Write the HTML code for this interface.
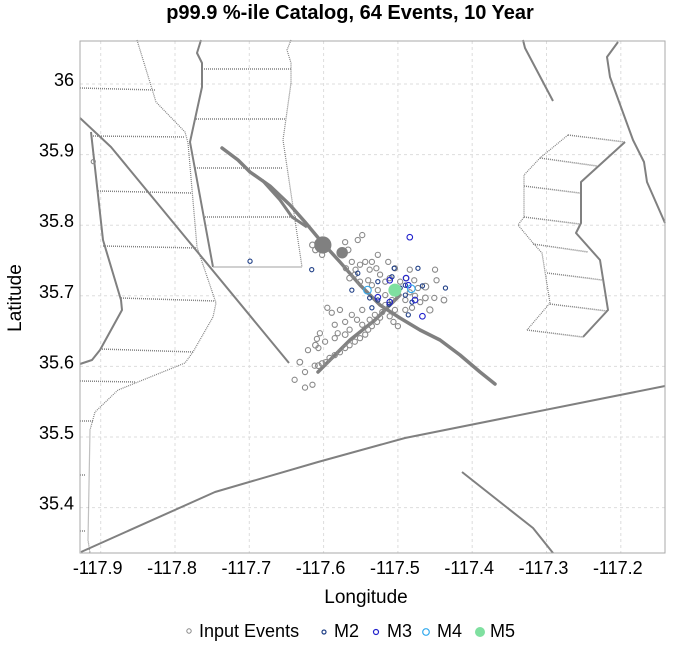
<!DOCTYPE html>
<html><head><meta charset="utf-8"><style>
body{margin:0;background:#fff;width:700px;height:647px;overflow:hidden;font-family:"Liberation Sans",sans-serif}
svg text{font-family:"Liberation Sans",sans-serif}
</style></head><body>
<svg id="chart" width="700" height="647" viewBox="0 0 700 647" xmlns="http://www.w3.org/2000/svg">
<text x="350" y="19" text-anchor="middle" font-size="20" font-weight="bold" fill="#000">p99.9 %-ile Catalog, 64 Events, 10 Year</text>
<g id="grid"></g>
<g fill="none" stroke="#808080" stroke-linejoin="round">
 <polyline stroke-width="2" points="201,40 197,53 202,63 202,87 190,142 213,267"/>
 <polyline stroke="#b5b5b5" stroke-width="1.2" points="213,267 302,267"/>
 <polyline stroke-width="1.2" stroke-dasharray="1,1" points="291,40 287,50 291,63 291,83 283,140 302,267"/>
 <g stroke-width="1.5" stroke-dasharray="1,1">
  <polyline points="202,69 291,69"/><polyline points="196,119 285,119"/><polyline points="195,168 283,168"/><polyline points="205,217 296,217"/>
  <polyline points="80,88 155,90"/><polyline points="91,136 185,137"/><polyline points="98,191 191,193"/><polyline points="103,246 197,248"/>
  <polyline points="121,298 215,301"/><polyline points="100,349 193,352"/><polyline points="80,381 135,382"/><polyline points="80,421 93,421"/>
  <polyline points="80,475 85,475"/><polyline points="80,531 86,531"/>
  <polyline points="568,135 625,142"/><polyline points="540,158 597,166"/><polyline points="524,186 580,193"/><polyline points="524,217 580,224"/>
  <polyline points="533,244 588,252"/><polyline points="547,273 602,280"/><polyline points="550,304 607,311"/><polyline points="527,330 583,337"/>
 </g>
 <polyline stroke-width="2" points="91,132 103,240 121,300 122,310 100,350 92,360 80,364"/>
 <polyline stroke-width="1.2" stroke-dasharray="1,1" points="137,40 156,102 185,132 188,143 197,247 216,303 213,317 193,352 185,363 118,390 95,412 90,430 88,540 90,553"/>
 <polyline stroke-width="2" points="80,118 111,147 289,363"/>
 <polyline stroke-width="2" points="81,552 215,492 318,462 405,438 665,386"/>
 <polyline stroke-width="2" points="523,40 525,48 553,101"/>
 <polyline stroke-width="2" points="618,42 607,57 610,77 633,140 644,162 647,182 665,223"/>
 <polyline stroke-width="2" points="625,142 581,182 581,223 576,233 600,260 608,310 583,337"/>
 <polyline stroke-width="1.2" stroke-dasharray="1,1" points="568,135 540,158 524,175 524,217 518,225 533,243 542,253 550,303 527,330"/>
 <polyline stroke-width="2" points="462,472 500,502 533,528 553,553"/>
 <polyline stroke-width="3.5" stroke-linecap="round" points="222,148 238,160 250,172 270,186 290,205 305,222 320,240 340,262 360,285 380,305 400,318 420,330 440,340 460,355 480,372 495,384"/>
 <polyline stroke-width="3" points="262,180 280,200 292,217 307,227"/>
 <polyline stroke-width="3.5" stroke-linecap="round" points="318,372 335,355 350,340 375,320 390,305 400,295"/>
</g>
<g id="events"></g>
<rect x="80" y="41" width="585" height="512" fill="none" stroke="#aaa" stroke-width="1"/>
<g id="axes"></g>
<text x="366" y="603" text-anchor="middle" font-size="19">Longitude</text>
<text x="21" y="298" text-anchor="middle" font-size="19" transform="rotate(-90 21 298)">Latitude</text>
<g font-size="18">
 <circle cx="189" cy="631" r="2.2" fill="none" stroke="#888" stroke-width="1"/>
 <text x="199" y="637">Input Events</text>
 <circle cx="324" cy="632" r="2" fill="none" stroke="#1f3f86" stroke-width="1.2"/>
 <text x="334" y="637">M2</text>
 <circle cx="376" cy="632" r="2.5" fill="none" stroke="#2222cc" stroke-width="1.2"/>
 <text x="387" y="637">M3</text>
 <circle cx="426" cy="632" r="3.3" fill="none" stroke="#33aaee" stroke-width="1.2"/>
 <text x="437" y="637">M4</text>
 <circle cx="480" cy="632" r="5" fill="#7fe0a0"/>
 <text x="490" y="637">M5</text>
</g>
</svg>
<script>
const xTicks=[-117.9,-117.8,-117.7,-117.6,-117.5,-117.4,-117.3,-117.2];
const yTicks=[36.0,35.9,35.8,35.7,35.6,35.5,35.4];
const xTickLabels=["-117.9","-117.8","-117.7","-117.6","-117.5","-117.4","-117.3","-117.2"];
const yTickLabels=["36","35.9","35.8","35.7","35.6","35.5","35.4"];
const inputLon=[-117.607,-117.611,-117.602,-117.615,-117.571,-117.567,-117.554,-117.548,-117.562,-117.570,-117.557,-117.565,-117.551,-117.544,-117.538,-117.535,-117.529,-117.524,-117.540,-117.551,-117.558,-117.535,-117.527,-117.517,-117.511,-117.517,-117.508,-117.500,-117.490,-117.484,-117.477,-117.470,-117.463,-117.490,-117.481,-117.504,-117.497,-117.489,-117.478,-117.473,-117.463,-117.457,-117.448,-117.451,-117.438,-117.450,-117.484,-117.504,-117.513,-117.527,
-117.517,-117.521,-117.524,-117.528,-117.535,-117.540,-117.544,-117.551,-117.558,-117.565,-117.571,-117.578,-117.585,-117.592,-117.597,-117.602,-117.607,-117.612,-117.531,-117.538,-117.548,-117.565,-117.571,-117.585,-117.598,-117.611,-117.621,-117.607,-117.632,-117.625,-117.615,-117.639,-117.625,-117.595,-117.589,-117.562,-117.555,-117.571,-117.578,-117.581,-117.605,-117.609,-117.585,-117.506,-117.500,-117.511,-117.548,-117.910];
const inputLat=[35.775,35.765,35.758,35.772,35.776,35.765,35.779,35.786,35.748,35.739,35.737,35.725,35.744,35.748,35.737,35.748,35.739,35.730,35.722,35.720,35.730,35.715,35.708,35.720,35.725,35.701,35.694,35.701,35.694,35.705,35.700,35.691,35.697,35.680,35.683,35.680,35.720,35.725,35.722,35.711,35.713,35.680,35.722,35.697,35.694,35.737,35.737,35.739,35.748,35.758,
35.687,35.677,35.669,35.663,35.657,35.652,35.645,35.640,35.635,35.630,35.626,35.620,35.616,35.612,35.606,35.604,35.601,35.601,35.673,35.666,35.659,35.652,35.645,35.640,35.635,35.630,35.623,35.626,35.606,35.592,35.574,35.581,35.570,35.683,35.676,35.673,35.666,35.663,35.680,35.647,35.647,35.639,35.659,35.663,35.657,35.671,35.680,35.890];
const inputMag=[2.6,2.2,2.0,2.2,2.0,2.2,2.0,2.0,2.0,2.0,2.0,2.2,2.0,2.0,2.0,2.0,2.0,2.0,2.0,2.0,2.0,2.0,2.0,2.0,2.0,2.0,2.0,2.0,2.0,2.0,2.0,2.0,2.2,2.0,2.0,2.0,2.0,2.0,2.0,2.0,2.6,2.4,2.0,2.0,2.2,2.0,2.0,2.0,2.0,2.0,
2.0,2.0,2.0,2.0,2.0,2.0,2.0,2.0,2.0,2.0,2.0,2.0,2.0,2.0,2.0,2.2,2.2,2.0,2.0,2.0,2.0,2.0,2.2,2.0,2.0,2.2,2.0,2.0,2.2,2.0,2.0,2.0,2.0,2.0,2.0,2.0,2.0,2.0,2.0,2.0,2.0,2.0,2.0,2.0,2.0,2.0,2.0,1.6];
const bigLon=[-117.601,-117.575];
const bigLat=[35.772,35.761];
const bigMag=[6.2,4.0];
const m2Lon=[-117.699,-117.616,-117.554,-117.527,-117.508,-117.497,-117.490,-117.512,-117.538,-117.527,-117.481,-117.486,-117.473,-117.467,-117.436,-117.490,-117.562,-117.505,-117.535];
const m2Lat=[35.749,35.737,35.732,35.720,35.727,35.711,35.715,35.688,35.697,35.694,35.691,35.673,35.739,35.714,35.711,35.701,35.708,35.739,35.683];
const m3Lon=[-117.484,-117.489,-117.527,-117.477,-117.467,-117.511,-117.486,-117.511];
const m3Lat=[35.783,35.725,35.698,35.694,35.671,35.722,35.715,35.691];
const m4Lon=[-117.541,-117.482];
const m4Lat=[35.708,35.710];
const m5Lon=[-117.504];
const m5Lat=[35.708];
const NS="http://www.w3.org/2000/svg";
function xScale(lon){return 100.7+(lon+117.9)*743;}
function yScale(lat){return 84+(36-lat)*706;}
const grid=document.getElementById('grid'),axes=document.getElementById('axes'),ev=document.getElementById('events');
xTicks.forEach((t,i)=>{
 const l=document.createElementNS(NS,'line');
 
 
 const x=xScale(t);
 l.setAttribute('x1',x);l.setAttribute('x2',x);l.setAttribute('y1',41);l.setAttribute('y2',553);
 l.setAttribute('stroke','#ddd');l.setAttribute('stroke-dasharray','3,3');grid.appendChild(l);
 const tx=document.createElementNS(NS,'text');
 
 
 tx.setAttribute('x',x-3);tx.setAttribute('y',574);tx.setAttribute('text-anchor','middle');tx.setAttribute('font-size','18');
 tx.textContent=xTickLabels[i];axes.appendChild(tx);
});
yTicks.forEach((t,i)=>{
 const l=document.createElementNS(NS,'line');
 
 
 const y=yScale(t);
 l.setAttribute('x1',80);l.setAttribute('x2',665);l.setAttribute('y1',y);l.setAttribute('y2',y);
 l.setAttribute('stroke','#ddd');l.setAttribute('stroke-dasharray','3,3');grid.appendChild(l);
 const tx=document.createElementNS(NS,'text');
 
 
 tx.setAttribute('x',74);tx.setAttribute('y',y+2);tx.setAttribute('text-anchor','end');tx.setAttribute('font-size','18');
 tx.textContent=yTickLabels[i];axes.appendChild(tx);
});
function circ(lon,lat,r,stroke,fill,name){
 const c=document.createElementNS(NS,'circle');
 
 
 c.setAttribute('cx',xScale(lon));c.setAttribute('cy',yScale(lat));c.setAttribute('r',r);
 c.setAttribute('fill',fill);c.setAttribute('stroke',stroke);c.setAttribute('stroke-width','1.1');
 ev.appendChild(c);
}
inputLon.forEach((v,i)=>circ(v,inputLat[i],inputMag[i]*1.3,'#8a8a8a','none','input-event'));
bigLon.forEach((v,i)=>circ(v,bigLat[i],bigMag[i]*1.3,'#808080','#808080','input-event-large'));
m2Lon.forEach((v,i)=>circ(v,m2Lat[i],2.1,'#1f3f86','none','m2-event'));
m3Lon.forEach((v,i)=>circ(v,m3Lat[i],2.8,'#2222cc','none','m3-event'));
m4Lon.forEach((v,i)=>circ(v,m4Lat[i],3.8,'#33aaee','none','m4-event'));
m5Lon.forEach((v,i)=>circ(v,m5Lat[i],6,'#7fe0a0','#7fe0a0','m5-event'));
</script>
</body></html>
